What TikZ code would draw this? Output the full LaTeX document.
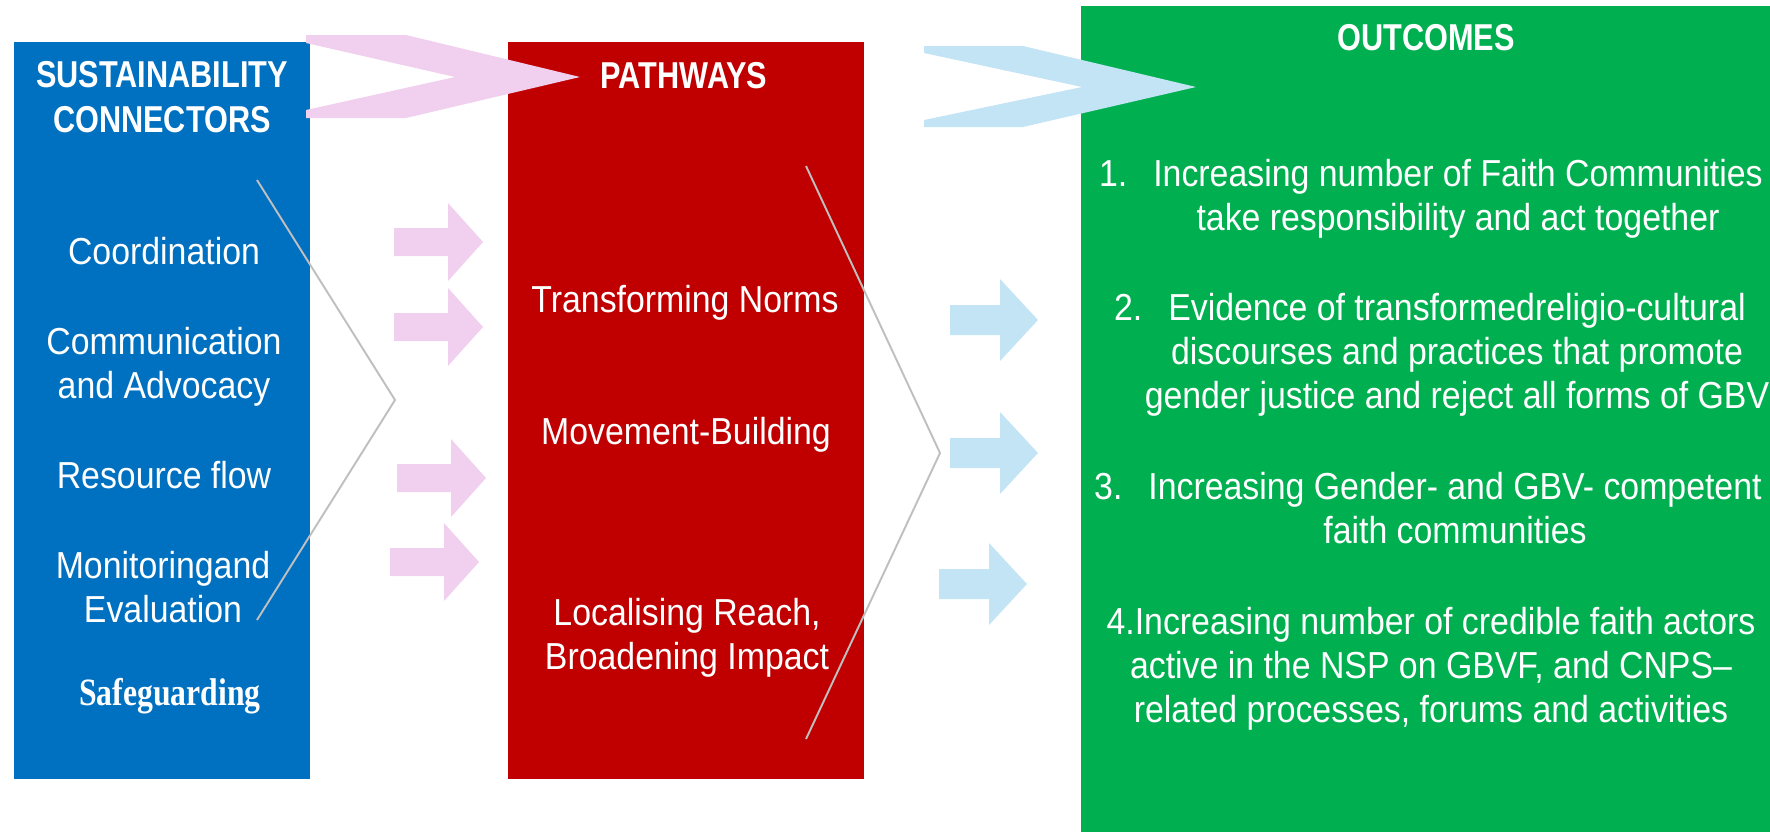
\documentclass[tikz,border=0pt]{standalone}
\usepackage{fontspec}
\setmainfont{Liberation Sans}
\newfontfamily\headfont[FakeStretch=0.82]{Liberation Sans}
\newfontfamily\bodyfont[FakeStretch=0.9]{Liberation Sans}
\newfontfamily\guardfont[FakeStretch=0.82]{Liberation Serif}
\usepackage{tikz}

\definecolor{connblue}{HTML}{0070C0}
\definecolor{pathred}{HTML}{C00000}
\definecolor{outgreen}{HTML}{00B050}
\definecolor{chevpink}{HTML}{F1CFEE}
\definecolor{chevblue}{HTML}{C3E4F5}
\definecolor{linegray}{HTML}{BFBFBF}

\begin{document}
\begin{tikzpicture}[x=0.02cm,y=-0.02cm]
  \tikzstyle{BoxStyle}=[rectangle,inner sep=0pt,outer sep=0pt,anchor=north west]
  \tikzstyle{HeadStyle}=[text=white,inner sep=0pt,anchor=base,align=center,
                         font={\headfont\bfseries\fontsize{21.3}{25.5}\selectfont}]
  \tikzstyle{ItemStyle}=[text=white,inner sep=0pt,anchor=base,align=center,
                         font={\bodyfont\fontsize{21.4}{25}\selectfont}]
  \tikzstyle{LineStyle}=[draw=linegray,line width=1.1pt]
  \useasboundingbox (0,0) rectangle (1770,832);
  % the three columns
  \node[BoxStyle,fill=connblue,minimum width=5.92cm,minimum height=14.74cm] (Conn) at (14,42) {};
  \node[BoxStyle,fill=pathred,minimum width=7.12cm,minimum height=14.74cm] (Path) at (508,42) {};
  \node[BoxStyle,fill=outgreen,minimum width=13.78cm,minimum height=16.52cm] (Out) at (1081,6) {};
  % chevrons on top
  \fill[chevpink] (306,35) -- (406,35) -- (580,77) -- (406,118) -- (306,118)
    -- (306,110) -- (455,77) -- (306,43) -- cycle;
  \fill[chevblue] (924,46) -- (1023,46) -- (1196,87) -- (1023,127) -- (924,127)
    -- (924,120) -- (1082,87) -- (924,53) -- cycle;
  % block arrows
  \foreach \x/\y in {394/242,394/327,397/478,390/562}
    \fill[chevpink] (\x,\y-14) -- ++(54,0) -- ++(0,-25) -- (\x+89,\y)
      -- (\x+54,\y+39) -- ++(0,-25) -- (\x,\y+14) -- cycle;
  \foreach \x/\y in {950/320,950/453,939/584}
    \fill[chevblue] (\x,\y-15) -- ++(50,0) -- ++(0,-26) -- (\x+88,\y)
      -- (\x+50,\y+41) -- ++(0,-26) -- (\x,\y+15) -- cycle;
  % brackets
  \draw[LineStyle] (257,180) -- (395,400) -- (257,620);
  \draw[LineStyle] (806,166) -- (940,453) -- (806,739);
  % headers (base = last line)
  \node[HeadStyle] (ConnHead) at (162,132) {SUSTAINABILITY\\CONNECTORS};
  \node[HeadStyle] (PathHead) at (684,88) {PATHWAYS};
  \node[HeadStyle] (OutHead) at (1426,50) {OUTCOMES};
  % connectors
  \node[ItemStyle] (Coord) at (164,264) {Coordination};
  \node[ItemStyle] (Comm) at (164,398) {Communication\\and Advocacy};
  \node[ItemStyle] (Res) at (164,488) {Resource flow};
  \node[ItemStyle] (Mon) at (163,622) {Monitoringand\\Evaluation};
  \node[ItemStyle,font={\guardfont\bfseries\fontsize{22}{25}\selectfont}] (Safe) at (170,705) {Safeguarding};
  % pathways
  \node[ItemStyle] (Norms) at (685,312) {Transforming Norms};
  \node[ItemStyle] (Move) at (686,444) {Movement-Building};
  \node[ItemStyle] (Reach) at (687,669) {Localising Reach,\\Broadening Impact};
  % outcomes
  \node[ItemStyle] (OutA) at (1458,230) {\llap{1.\hspace{0.52cm}}Increasing number of Faith Communities\\take responsibility and act together};
  \node[ItemStyle] (OutB) at (1457,408) {\llap{2.\hspace{0.52cm}}Evidence of transformedreligio-cultural\\discourses and practices that promote\\gender justice and reject all forms of GBV};
  \node[ItemStyle] (OutC) at (1455,543) {\llap{3.\hspace{0.52cm}}Increasing Gender- and GBV- competent\\faith communities};
  \node[ItemStyle] (OutD) at (1431,722) {4.Increasing number of credible faith actors\\active in the NSP on GBVF, and CNPS–\\related processes, forums and activities};
\end{tikzpicture}
\end{document}
